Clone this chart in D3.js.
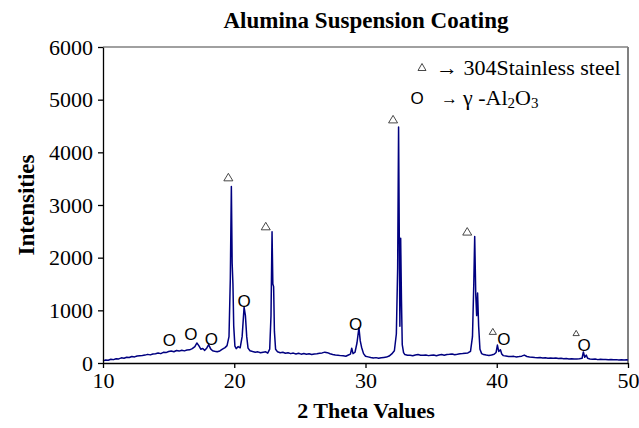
<!DOCTYPE html>
<html>
<head>
<meta charset="utf-8">
<script src="https://cdn.jsdelivr.net/npm/d3@7"></script>
<style>
  html, body { margin: 0; padding: 0; background: #fff; }
  svg { display: block; }
</style>
</head>
<body>
<svg id="chart" width="639" height="428"></svg>
<script>
// ---- data ----
const twoTheta = [
  10.0,10.2,10.4,10.6,10.8,11.0,11.2,11.4,11.6,11.8,12.0,12.2,12.4,12.6,12.8,13.0,13.2,13.4,13.6,13.8,
  14.0,14.2,14.4,14.6,14.8,15.0,15.2,15.4,15.6,15.8,16.0,16.2,16.4,16.6,16.8,17.0,17.15,17.3,17.45,17.6,
  17.75,17.9,18.05,18.2,18.35,18.5,18.7,18.9,19.1,19.3,19.45,19.6,19.7,19.78,19.84,19.9,19.96,20.05,20.15,20.3,
  20.45,20.6,20.75,20.85,20.95,21.05,21.2,21.4,21.6,21.8,22.0,22.2,22.4,22.55,22.7,22.8,22.88,22.94,23.0,23.06,
  23.15,23.3,23.5,23.7,23.9,24.1,24.3,24.5,24.7,24.9,25.1,25.3,25.5,25.7,25.9,26.1,26.3,26.5,26.7,26.9,
  27.1,27.3,27.5,27.7,27.9,28.1,28.3,28.5,28.7,28.85,28.95,29.05,29.2,29.35,29.5,29.6,29.7,29.85,30.0,30.2,
  30.4,30.6,30.8,31.0,31.2,31.4,31.6,31.8,32.0,32.2,32.35,32.45,32.52,32.58,32.62,32.68,32.74,32.8,32.9,33.0,
  33.2,33.4,33.6,33.8,34.0,34.2,34.4,34.6,34.8,35.0,35.2,35.4,35.6,35.8,36.0,36.2,36.4,36.6,36.8,37.0,
  37.2,37.4,37.6,37.8,38.0,38.15,38.25,38.32,38.4,38.47,38.54,38.62,38.72,38.85,39.0,39.2,39.4,39.6,39.8,39.95,
  40.05,40.15,40.28,40.38,40.5,40.7,40.9,41.1,41.3,41.5,41.7,41.9,42.1,42.3,42.5,42.7,42.9,43.1,43.3,43.5,
  43.7,43.9,44.1,44.3,44.5,44.7,44.9,45.1,45.3,45.5,45.7,45.9,46.1,46.3,46.5,46.6,46.7,46.82,46.92,47.1,
  47.3,47.5,47.7,47.9,48.1,48.3,48.5,48.7,48.9,49.1,49.3,49.5,49.7,49.9,50.0
];
const intensity = [
  40,58,52,72,64,82,78,98,90,108,104,124,116,134,138,142,150,164,154,172,
  176,188,178,202,198,218,226,214,238,226,242,230,246,250,272,310,380,330,262,276,
  240,282,350,268,232,222,212,228,262,292,330,500,1600,3350,1900,1500,700,320,272,312,
  288,500,1060,900,500,282,232,218,206,212,194,204,212,188,262,900,2490,1500,1450,600,
  262,212,196,204,184,194,178,188,172,184,168,180,166,176,162,172,176,184,192,206,
  196,176,162,150,146,140,136,128,152,168,280,178,204,380,670,420,300,178,128,116,
  104,94,102,90,100,106,112,132,172,232,550,1800,4480,2200,700,2370,1200,350,198,160,
  148,146,138,152,160,148,146,152,140,146,150,138,150,162,148,162,164,172,158,166,
  176,180,186,190,222,500,1500,2400,1300,900,1330,700,260,178,160,150,142,152,166,200,
  340,220,250,170,140,132,124,122,126,116,122,130,150,124,116,110,104,102,106,94,
  100,92,96,88,96,84,90,80,86,78,82,74,78,80,90,210,110,150,90,76,
  70,74,64,70,66,68,62,66,60,64,58,62,56,60,55
];
const steelMarks = [
  {x: 19.55, y: 3530, s: 1},
  {x: 22.4, y: 2600, s: 1},
  {x: 32.1, y: 4630, s: 1},
  {x: 37.75, y: 2500, s: 1},
  {x: 39.7, y: 600, s: 0.8},
  {x: 46.05, y: 570, s: 0.7}
];
const aluminaMarks = [
  {x: 15.05, y: 430},
  {x: 16.7, y: 550},
  {x: 18.25, y: 450},
  {x: 20.75, y: 1160},
  {x: 29.25, y: 740},
  {x: 40.55, y: 440},
  {x: 46.65, y: 340}
];
const xTicks = [10, 20, 30, 40, 50];
const yTicks = [0, 1000, 2000, 3000, 4000, 5000, 6000];

// ---- chart ----
const svg = d3.select("#chart");
const serif = "'Liberation Serif', 'Times New Roman', serif";
const sans = "'Liberation Sans', Arial, sans-serif";

const x = d3.scaleLinear().domain([10, 50]).range([103, 628]);
const y = d3.scaleLinear().domain([0, 6000]).range([363, 47]);

// plot area border (top & right, grey)
svg.append("line").attr("x1", x(10)).attr("x2", x(50)).attr("y1", y(6000)).attr("y2", y(6000))
  .attr("stroke", "#808080").attr("stroke-width", 1.5);
svg.append("line").attr("x1", x(50)).attr("x2", x(50)).attr("y1", y(6000)).attr("y2", y(0))
  .attr("stroke", "#808080").attr("stroke-width", 2);

// line
const pts = twoTheta.map((t, i) => [t, intensity[i]]);
svg.append("path")
  .datum(pts)
  .attr("fill", "none")
  .attr("stroke", "#000080")
  .attr("stroke-width", 1.5)
  .attr("stroke-linejoin", "round")
  .attr("d", d3.line().x(d => x(d[0])).y(d => y(d[1])));

// axes
const xAxis = svg.append("g").attr("transform", `translate(0,${y(0)})`)
  .call(d3.axisBottom(x).tickValues(xTicks).tickFormat(d3.format("d")).tickSize(5).tickSizeOuter(0).tickPadding(4));
const yAxis = svg.append("g").attr("transform", `translate(${x(10)},0)`)
  .call(d3.axisLeft(y).tickValues(yTicks).tickFormat(d3.format("d")).tickSize(5).tickSizeOuter(0).tickPadding(5));
[xAxis, yAxis].forEach(g => {
  g.selectAll("path, line").attr("stroke", "#000").attr("stroke-width", 1.3);
  g.selectAll("text").attr("font-family", serif).attr("font-size", 22).attr("fill", "#000");
});

// markers: triangles
svg.append("g").selectAll("path")
  .data(steelMarks).join("path")
  .attr("transform", d => `translate(${x(d.x)},${y(d.y)})`)
  .attr("d", d => { const w = 4.5 * d.s, h = 7.5 * d.s; return `M0,${-h/2}L${w},${h/2}L${-w},${h/2}Z`; })
  .attr("fill", "none").attr("stroke", "#333").attr("stroke-width", 0.9);

// markers: O
svg.append("g").selectAll("text")
  .data(aluminaMarks).join("text")
  .attr("x", d => x(d.x)).attr("y", d => y(d.y))
  .attr("text-anchor", "middle").attr("dominant-baseline", "central")
  .attr("font-family", sans).attr("font-size", 17).attr("fill", "#000")
  .text("O");

// title & axis labels
svg.append("text").attr("x", 366).attr("y", 28).attr("text-anchor", "middle")
  .attr("font-family", serif).attr("font-weight", "bold").attr("font-size", 23)
  .text("Alumina Suspension Coating");
svg.append("text").attr("x", 366).attr("y", 418).attr("text-anchor", "middle")
  .attr("font-family", serif).attr("font-weight", "bold").attr("font-size", 22)
  .text("2 Theta Values");
svg.append("text").attr("transform", "translate(34,205) rotate(-90)").attr("text-anchor", "middle")
  .attr("font-family", serif).attr("font-weight", "bold").attr("font-size", 23)
  .text("Intensities");

// legend
const lg = svg.append("g");
lg.append("path").attr("transform", "translate(422,67)")
  .attr("d", "M0,-3.5L4,3.5L-4,3.5Z").attr("fill", "none").attr("stroke", "#333").attr("stroke-width", 0.9);
lg.append("text").attr("x", 436).attr("y", 75)
  .attr("font-family", serif).attr("font-size", 22).text("\u2192 304Stainless steel");
lg.append("text").attr("x", 417).attr("y", 98).attr("text-anchor", "middle").attr("dominant-baseline", "central")
  .attr("font-family", sans).attr("font-size", 17).text("O");
lg.append("text").attr("x", 441).attr("y", 104)
  .attr("font-family", serif).attr("font-size", 17).text("\u2192");
const t2 = lg.append("text").attr("x", 463).attr("y", 105)
  .attr("font-family", serif).attr("font-size", 22);
t2.append("tspan").text("\u03B3 -Al");
t2.append("tspan").attr("font-size", 15).attr("dy", 3).text("2");
t2.append("tspan").attr("dy", -3).text("O");
t2.append("tspan").attr("font-size", 15).attr("dy", 3).text("3");
</script>
</body>
</html>
